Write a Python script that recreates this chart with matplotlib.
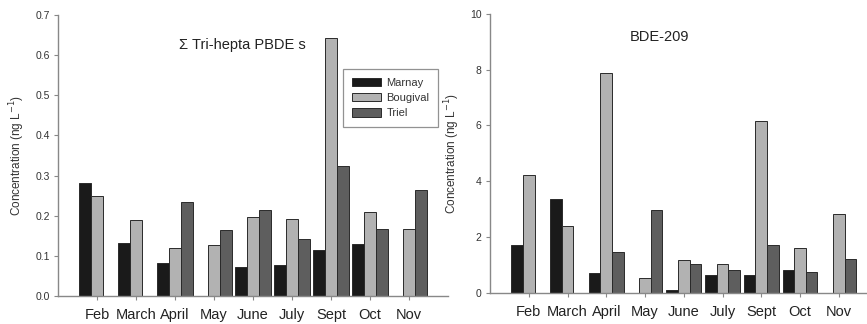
import matplotlib
matplotlib.use("Agg")
import matplotlib.pyplot as plt
import numpy as np

plt.rcParams['font.family'] = ['Liberation Sans', 'DejaVu Sans']

months = ["Feb", "March", "April", "May", "June", "July", "Sept", "Oct", "Nov"]
series = ["Marnay", "Bougival", "Triel"]

# Σ Tri-hepta PBDEs (ng/L)
pbde_marnay = [0.281, 0.131, 0.081, 0.0, 0.072, 0.078, 0.114, 0.129, 0.0]
pbde_bougival = [0.250, 0.190, 0.120, 0.128, 0.197, 0.192, 0.643, 0.209, 0.168]
pbde_triel = [0.0, 0.0, 0.234, 0.165, 0.214, 0.143, 0.323, 0.168, 0.265]

# BDE-209 (ng/L)
bde_marnay = [1.70, 3.37, 0.69, 0.0, 0.08, 0.64, 0.65, 0.80, 0.0]
bde_bougival = [4.23, 2.39, 7.90, 0.52, 1.18, 1.02, 6.17, 1.60, 2.81]
bde_triel = [0.0, 0.0, 1.46, 2.96, 1.02, 0.82, 1.70, 0.74, 1.21]

colors = ["#1a1a1a", "#b2b2b2", "#5e5e5e"]
W, H = 867, 324
fig = plt.figure(figsize=(W / 100, H / 100), dpi=100)

def px_axes(x0, x1, ytop, ybot):
    return fig.add_axes([x0 / W, 1 - ybot / H, (x1 - x0) / W, (ybot - ytop) / H])

ax1 = px_axes(58, 448, 15, 296)
ax2 = px_axes(490, 877.5, 14, 292.7)

x = np.arange(len(months))
bw = 0.3

def draw(ax, vals, ylim, yticks, yfmt, title, tx, ty, legend=False):
    for i, (v, c, name) in enumerate(zip(vals, colors, series)):
        ax.bar(x + (i - 1) * bw, v, width=bw, color=c, edgecolor="#2a2a2a",
               linewidth=0.7, label=name, zorder=2)
    ax.set_xlim(-1, 9)
    ax.set_ylim(*ylim)
    ax.set_yticks(yticks)
    ax.set_yticklabels([yfmt.format(t) for t in yticks], fontsize=7.5, color="#333333")
    ax.set_xticks(x)
    ax.set_xticklabels(months, fontsize=10.5, color="#222222")
    ax.tick_params(axis="x", length=3, width=0.8, color="#888888", pad=5.5)
    ax.tick_params(axis="y", length=3, width=0.8, color="#888888", pad=3)
    for s in ["top", "right"]:
        ax.spines[s].set_visible(False)
    for s in ["left", "bottom"]:
        ax.spines[s].set_color("#888888")
        ax.spines[s].set_linewidth(1.0)
    ax.set_ylabel("Concentration (ng L$^{-1}$)", fontsize=8.5, color="#333333", labelpad=6)
    ax.text(tx, ty, title, fontsize=10.5, ha="center", va="center", color="#222222")
    if legend:
        leg = ax.legend(loc="upper left", bbox_to_anchor=(0.731, 0.808), borderaxespad=0,
                        fontsize=8, frameon=True, fancybox=False, edgecolor="#777777",
                        handlelength=2.6, handleheight=0.8, handletextpad=0.5,
                        borderpad=0.8, labelspacing=0.45)
        leg.get_frame().set_linewidth(0.9)
        for t in leg.get_texts():
            t.set_color("#333333")

draw(ax1, [pbde_marnay, pbde_bougival, pbde_triel], (0, 0.7),
     [0.0, 0.1, 0.2, 0.3, 0.4, 0.5, 0.6, 0.7], "{:.1f}",
     "Σ Tri-hepta PBDE s", 3.74, 0.626, legend=True)
draw(ax2, [bde_marnay, bde_bougival, bde_triel], (0, 10),
     [0, 2, 4, 6, 8, 10], "{:d}", "BDE-209", 3.38, 9.17)

fig.savefig("out.png", dpi=100)
